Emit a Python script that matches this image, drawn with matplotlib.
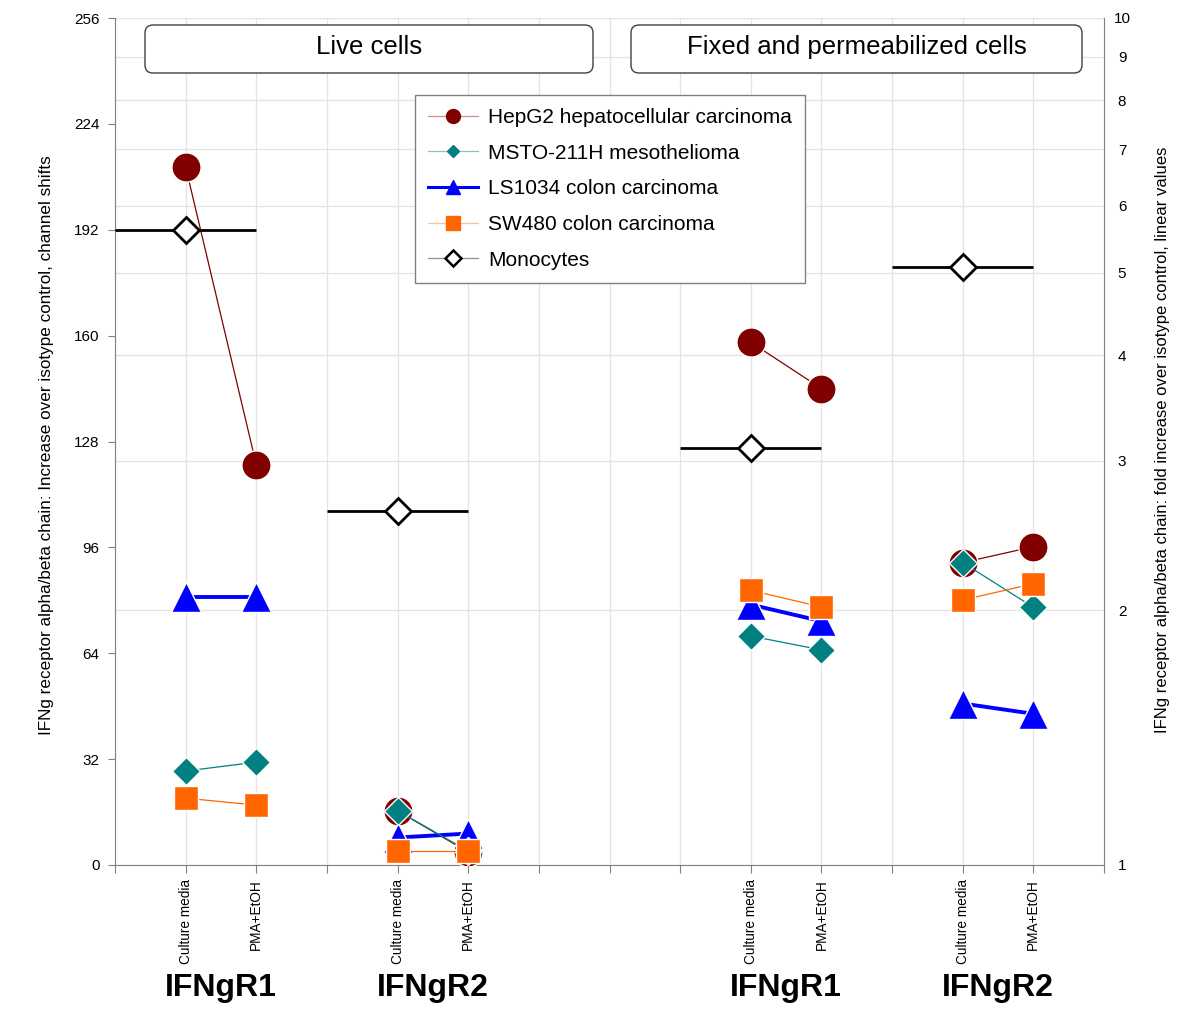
import matplotlib
matplotlib.use("Agg")
import matplotlib.pyplot as plt
from matplotlib.lines import Line2D
from matplotlib.patches import FancyBboxPatch
from matplotlib.ticker import NullLocator

FONT = ['Liberation Sans', 'DejaVu Sans']

# category slots on the x axis (gaps between groups are empty slots)
positions = [1, 2, 4, 5, 9, 10, 12, 13]
tick_labels = ['Culture media', 'PMA+EtOH'] * 4
group_names = ['IFNgR1', 'IFNgR2', 'IFNgR1', 'IFNgR2']
panel_titles = ['Live cells', 'Fixed and permeabilized cells']

# channel shifts over isotype control
hepg2 = [211, 121, 16.4, 3.9, 158, 144, 91.4, 96.2]
msto = [28.4, 31.1, 16.4, 4.2, 69.2, 65.0, 91.4, 77.9]
ls1034 = [80.9, 80.9, 8.3, 9.5, 78.7, 73.7, 48.8, 45.7]
sw480 = [20.2, 18.1, 4.2, 4.2, 83.0, 78.0, 80.1, 85.0]
mono_pos = [1, 4, 9, 12]
monocytes = [192, 107, 126, 180.7]

# name, values, colour, legend line colour, marker, size, line width, legend marker size
series = [
    ('HepG2 hepatocellular carcinoma', hepg2, '#800000', '#C89090', 'o', 21, 0.9, 10),
    ('MSTO-211H mesothelioma', msto, '#008080', '#88C4C4', 'D', 14, 0.9, 6.5),
    ('LS1034 colon carcinoma', ls1034, '#0000FF', '#0000FF', '^', 22, 2.8, 10),
    ('SW480 colon carcinoma', sw480, '#FF6600', '#FFC090', 's', 17, 0.9, 9.5),
]
zorders = {'o': 3, '^': 4, 'D': 5, 's': 6}

fig = plt.figure(figsize=(11.94, 10.27), dpi=100)
ax = fig.add_axes([115 / 1194, 162 / 1027, 989 / 1194, 847 / 1027])
ax2 = ax.twinx()

handles = []
for name, vals, color, lcolor, marker, ms, lw, lms in series:
    for i in range(0, len(positions), 2):
        ax.plot(positions[i:i + 2], vals[i:i + 2], color=color, lw=lw,
                marker=marker, ms=ms, mfc=color, mec='white', mew=1,
                zorder=zorders[marker])
    handles.append(Line2D([], [], color=lcolor, lw=min(lw, 2.2),
                          marker=marker, ms=lms, mfc=color, mec=color, label=name))

ax.errorbar(mono_pos, monocytes, xerr=1, fmt='D', ms=13.5, mfc='white', mec='black',
            mew=2, ecolor='black', elinewidth=2, capsize=0, zorder=7)
handles.append(Line2D([], [], color='#909090', lw=0.9, marker='D', ms=8, mfc='white',
                      mec='black', mew=1.8, label='Monocytes'))

ax.set_xlim(0, 14)
ax.set_ylim(0, 256)
ax.set_yticks(range(0, 257, 32))
ax.set_xticks(range(0, 15))
lab = [''] * 15
for p, t in zip(positions, tick_labels):
    lab[p] = t
ax.set_xticklabels(lab, rotation=90, family=FONT, fontsize=9.8)
for t in ax.get_yticklabels():
    t.set_family(FONT)
    t.set_fontsize(11)
ax.tick_params(axis='x', length=6, color='#808080', pad=4)
ax.tick_params(axis='y', length=5, color='#808080', pad=6)
ax.grid(axis='x', color='#E3E3E3', lw=0.9)
ax.set_axisbelow(True)
for s in ['top', 'right']:
    ax.spines[s].set_visible(False)
for s in ['left', 'bottom']:
    ax.spines[s].set_color('#808080')

ax2.set_yscale('log')
ax2.set_ylim(1, 10)
ax2.set_yticks(range(1, 11))
ax2.set_yticklabels([str(v) for v in range(1, 11)], family=FONT, fontsize=11, ha='center')
ax2.yaxis.set_minor_locator(NullLocator())
ax2.tick_params(axis='y', length=0, pad=13)
ax2.grid(axis='y', color='#E3E3E3', lw=0.9)
for s in ['top', 'left', 'bottom']:
    ax2.spines[s].set_visible(False)
ax2.spines['right'].set_color('#808080')
ax.set_zorder(ax2.get_zorder() + 1)
ax.patch.set_visible(False)

# group names under the tick labels
for k, g in enumerate(group_names):
    xc = (positions[2 * k] + positions[2 * k + 1]) / 2
    ax.text(xc, -0.145, g, transform=ax.get_xaxis_transform(), ha='center', va='center',
            fontsize=23, fontweight='bold', family=FONT)

# axis titles
fig.text(47 / 1194, 1 - 445 / 1027,
         'IFNg receptor alpha/beta chain: Increase over isotype control, channel shifts',
         rotation=90, ha='center', va='center', fontsize=12.3, family=FONT)
fig.text(1162 / 1194, 1 - 440 / 1027,
         'IFNg receptor alpha/beta chain: fold increase over isotype control, linear values',
         rotation=90, ha='center', va='center', fontsize=12, family=FONT)

# panel header boxes
for (x0, x1), title in zip([(145, 593), (631, 1082)], panel_titles):
    box = FancyBboxPatch((x0 / 100, (1027 - 73) / 100), (x1 - x0) / 100, 0.48,
                         boxstyle='round,pad=0,rounding_size=0.08',
                         transform=fig.dpi_scale_trans, fc='white', ec='#404040', lw=1)
    fig.patches.append(box)
    fig.text((x0 + x1) / 2 / 1194, 1 - 47 / 1027, title, ha='center', va='center',
             fontsize=18.5, family=FONT)

leg = ax.legend(handles=handles, loc='upper left', bbox_to_anchor=(415 / 1194, 1 - 95 / 1027),
                bbox_transform=fig.transFigure, borderaxespad=0, fancybox=False,
                edgecolor='#808080', framealpha=1, prop={'family': FONT, 'size': 15},
                handlelength=2.4, handletextpad=0.5, labelspacing=0.8, borderpad=0.62)
leg.get_frame().set_linewidth(1)
leg.set_zorder(20)

fig.savefig('out.png', dpi=100)
